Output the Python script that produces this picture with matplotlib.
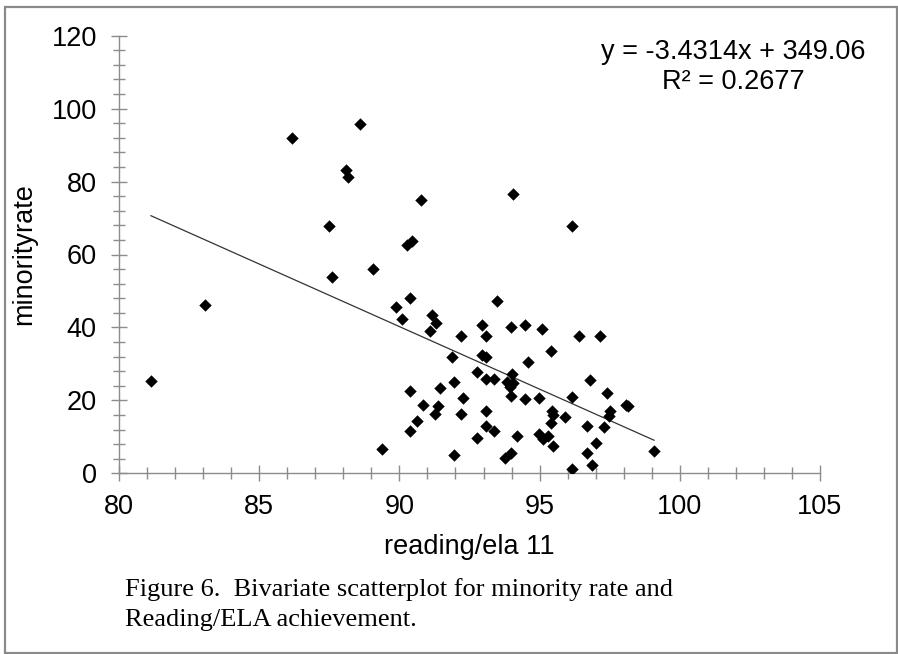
import matplotlib
matplotlib.use("Agg")
import matplotlib.pyplot as plt
from matplotlib.patches import Rectangle
from matplotlib.ticker import MultipleLocator
import numpy as np

reading_ela = [86.16, 88.59, 88.08, 88.18, 90.77, 87.49, 90.26, 90.46, 89.07, 87.58,
               90.38, 93.47, 94.06, 96.17, 83.07, 81.14, 89.37, 89.87, 90.08, 91.17,
               91.29, 91.09, 92.18, 92.96, 93.08, 91.86, 92.96, 93.08, 92.78, 93.08,
               93.39, 91.96, 90.38, 91.45, 92.28, 90.85, 91.39, 91.27, 92.18, 93.08,
               90.62, 90.38, 93.08, 93.39, 92.78, 91.96, 93.98, 94.48, 95.07, 96.39,
               97.15, 95.40, 94.57, 94.00, 93.82, 94.06, 93.94, 93.98, 94.48, 94.98,
               96.17, 96.80, 97.39, 95.43, 95.49, 95.91, 95.40, 97.51, 97.49, 98.07,
               98.16, 96.68, 97.31, 94.21, 94.98, 95.13, 95.31, 95.49, 97.00, 96.68,
               96.88, 96.17, 93.77, 93.98, 99.08]
minority_rate = [91.9, 95.8, 83.2, 81.3, 74.9, 67.9, 62.6, 63.8, 56.0, 53.9,
                 48.0, 47.2, 76.6, 67.9, 46.1, 25.4, 6.8, 45.5, 42.2, 43.4,
                 41.3, 39.1, 37.7, 40.7, 37.7, 32.0, 32.4, 32.0, 27.9, 25.8,
                 25.8, 25.1, 22.6, 23.3, 20.6, 18.7, 18.5, 16.3, 16.3, 17.1,
                 14.4, 11.7, 13.1, 11.7, 9.6, 5.0, 40.2, 40.7, 39.7, 37.7,
                 37.7, 33.6, 30.4, 27.1, 25.1, 24.8, 23.7, 21.2, 20.3, 20.6,
                 21.0, 25.6, 21.9, 17.1, 16.0, 15.4, 13.7, 17.1, 15.7, 18.7,
                 18.4, 13.1, 12.8, 10.3, 10.8, 9.3, 10.3, 7.6, 8.2, 5.5,
                 2.3, 1.1, 4.3, 5.5, 6.1]

slope = -3.4314
intercept = 349.06
r_squared = 0.2677

x_ticks = [80, 85, 90, 95, 100, 105]
y_ticks = [0, 20, 40, 60, 80, 100, 120]

plt.rcParams['font.family'] = ['Liberation Sans', 'DejaVu Sans']
FS = 19.5

fig = plt.figure(figsize=(8.98, 6.54), dpi=100)
ax = fig.add_axes([119/898, 1-473.3/654, (820-119)/898, (473.3-35.7)/654])

gray = '#8c8c8c'
x = np.array(reading_ela)
y = np.array(minority_rate)
ax.scatter(x, y, marker='D', s=40, color='black', linewidths=0, zorder=3)

xl = np.array([x.min(), x.max()])
ax.plot(xl, slope*xl + intercept, color='#333333', lw=0.9, zorder=2)

ax.set_xlim(80, 105)
ax.set_ylim(0, 120)
ax.set_xticks(x_ticks)
ax.set_yticks(y_ticks)
ax.xaxis.set_minor_locator(MultipleLocator(1))
ax.yaxis.set_minor_locator(MultipleLocator(4))
for s in ['top', 'right']:
    ax.spines[s].set_visible(False)
for s in ['left', 'bottom']:
    ax.spines[s].set_color(gray)
    ax.spines[s].set_linewidth(1.0)
ax.tick_params(which='major', direction='inout', length=12, width=1.0, color=gray,
               labelsize=FS, labelcolor='black')
ax.tick_params(which='minor', direction='inout', length=8, width=1.0, color=gray)
ax.tick_params(axis='x', which='major', pad=9)
ax.tick_params(axis='y', which='major', pad=10)

ax.set_xlabel('reading/ela 11', fontsize=FS, labelpad=10)
ax.set_ylabel('minorityrate', fontsize=FS, labelpad=10)

fig.text(733/898, 1-52/654, f'y = {slope}x + {intercept}', ha='center', va='center', fontsize=FS)
fig.text(733/898, 1-82/654, f'R² = {r_squared}', ha='center', va='center', fontsize=FS)

fig.text(125/898, 1-596/654, 'Figure 6.  Bivariate scatterplot for minority rate and',
         family='Liberation Serif', fontsize=19, ha='left', va='baseline')
fig.text(125/898, 1-626/654, 'Reading/ELA achievement.',
         family='Liberation Serif', fontsize=19, ha='left', va='baseline')

fig.patches.append(Rectangle((5/898, 1-653/654), (897-5)/898, (653-7)/654,
                             transform=fig.transFigure, fill=False,
                             edgecolor='#8a8a8a', linewidth=1.6))

fig.savefig('out.png', dpi=100)
